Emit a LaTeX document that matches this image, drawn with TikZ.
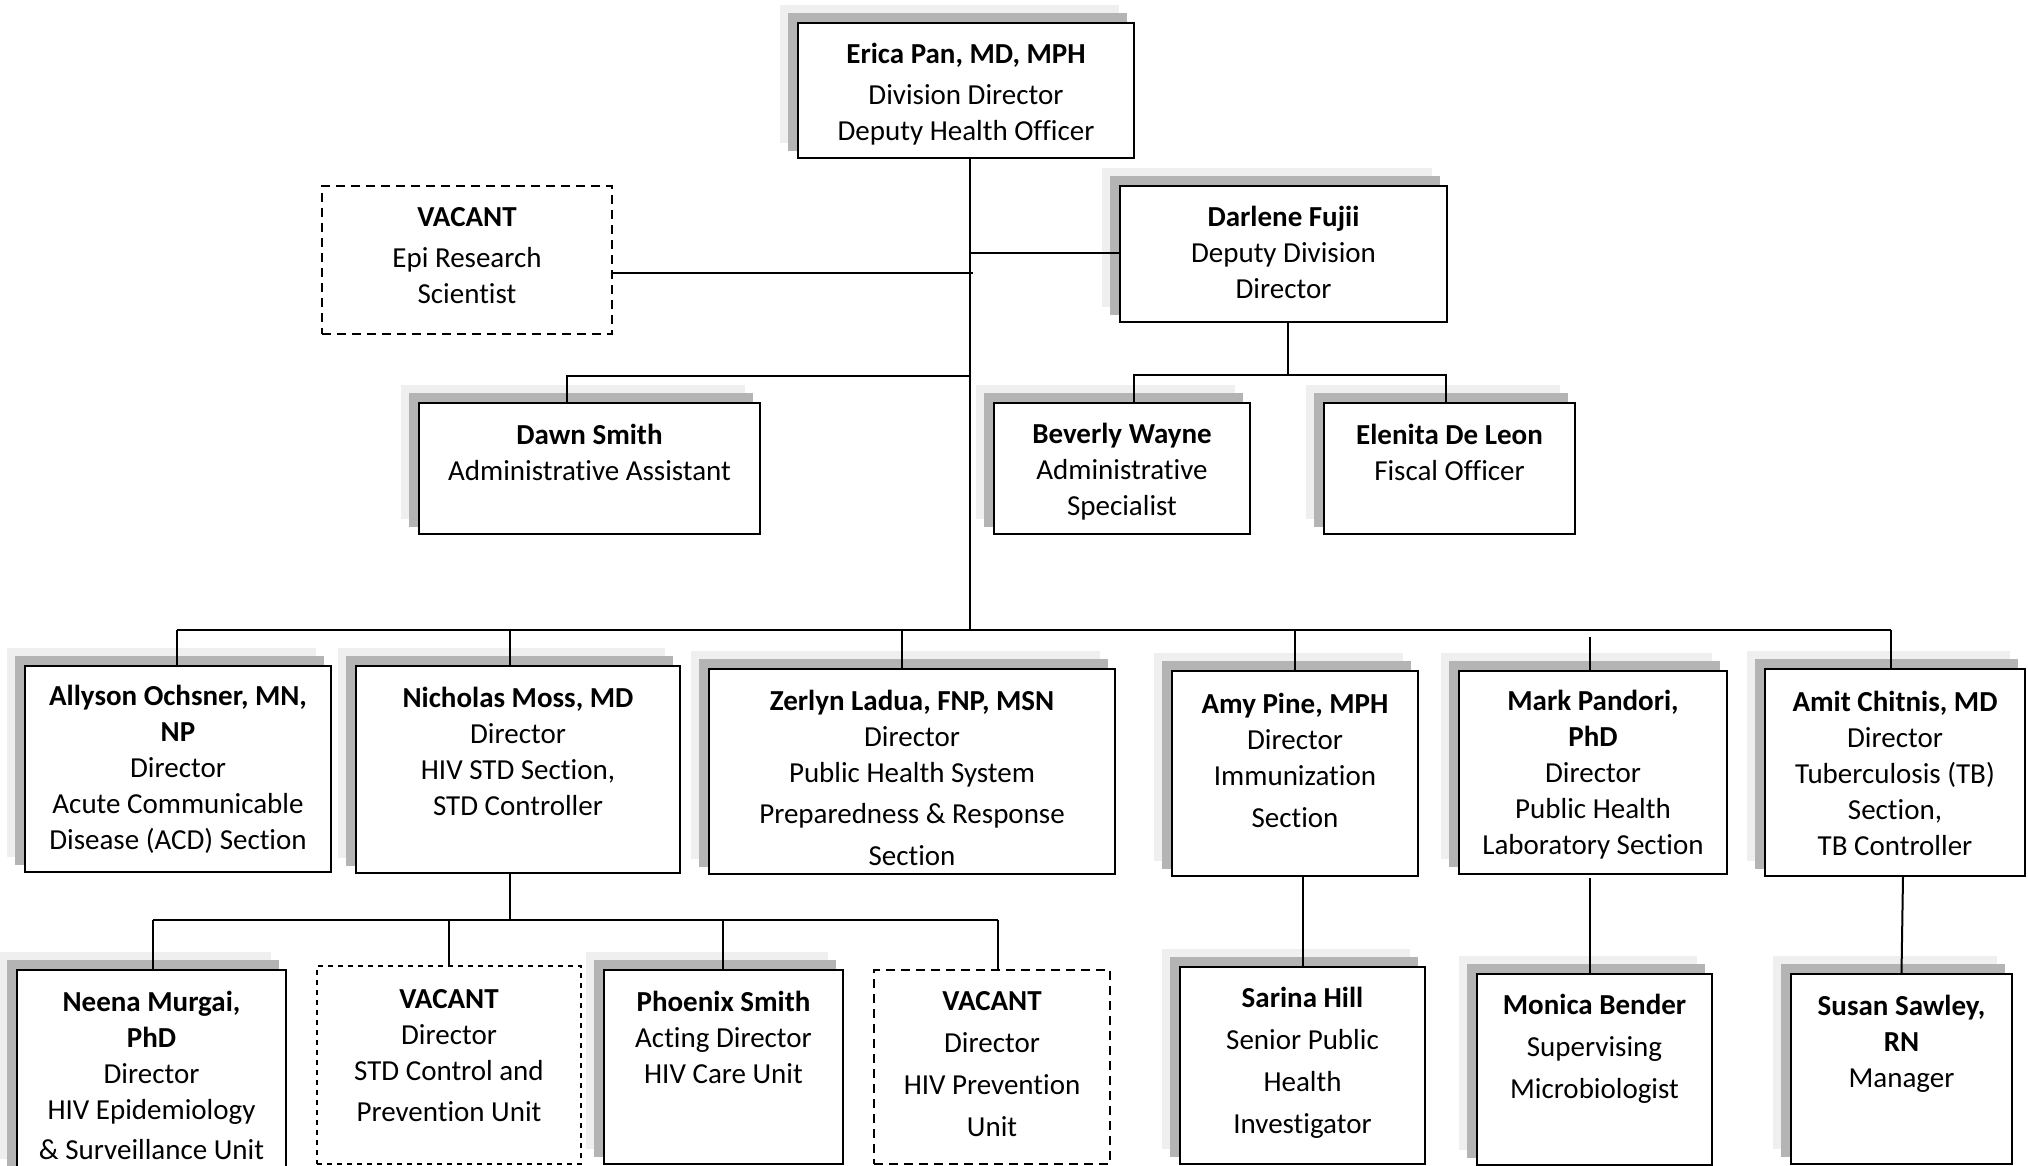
\documentclass[tikz,border=0pt]{standalone}
\usepackage{fontspec}
\setmainfont{Carlito}[Ligatures={NoCommon}]
\usetikzlibrary{calc}
\definecolor{shlight}{HTML}{EFEFEF}
\definecolor{shdark}{HTML}{B4B4B4}
\tikzset{
  conn/.style={line width=1pt},
  trunkline/.style={line width=1.4pt},
  solidbox/.style={draw=black, fill=white, line width=1.1pt, inner sep=0pt},
  vacA/.style={draw=black, fill=white, line width=1.1pt, inner sep=0pt, dash pattern=on 4.5pt off 3pt},
  vacB/.style={draw=black, fill=white, line width=0.9pt, inner sep=0pt, dash pattern=on 2.5pt off 2.5pt},
  lbl/.style={align=center, inner sep=0pt, font=\fontsize{14.5}{18}\selectfont},
}
% #1 name, #2 x1, #3 y1, #4 x2, #5 y2, #6 text centre y, #7 text
\newcommand\orgbox[7]{%
  \fill[shlight] (#2-18,#3-18) rectangle (#4-15,#5-15);
  \fill[shdark] (#2-10,#3-10) rectangle (#4-7,#5-7);
  \node[solidbox, minimum width={(#4-#2)*0.5pt}, minimum height={(#5-#3)*0.5pt}] (#1) at ({(#2+#4)/2},{(#3+#5)/2}) {};
  \node[lbl] (#1-t) at ({(#2+#4)/2},{#6+2}) {#7};
}
\newcommand\vacbox[8][vacA]{%
  \node[#1, minimum width={(#5-#3)*0.5pt}, minimum height={(#6-#4)*0.5pt}] (#2) at ({(#3+#5)/2},{(#4+#6)/2}) {};
  \node[lbl] (#2-t) at ({(#3+#5)/2},{#7+2}) {#8};
}
\begin{document}
\begin{tikzpicture}[x=0.5pt, y=-0.5pt]
\useasboundingbox (0,0) rectangle (2028,1166);
\fill[white] (0,0) rectangle (2028,1166);

% top
\orgbox{erica}{798}{23}{1134}{158}{92}{\textbf{Erica Pan, MD, MPH}\\[2.5pt]Division Director\\Deputy Health Officer}
\vacbox[vacA]{epi}{322}{186}{612}{334}{253.5}{\textbf{VACANT}\\[2.5pt]Epi Research\\Scientist}
\orgbox{darlene}{1120}{186}{1447}{322}{250.5}{\textbf{Darlene Fujii}\\Deputy Division\\Director}
\orgbox{dawn}{419}{403}{760}{534}{450}{\textbf{Dawn Smith}\\Administrative Assistant}
\orgbox{beverly}{994}{403}{1250}{534}{470}{\textbf{Beverly Wayne}\\Administrative\\Specialist}
\orgbox{elenita}{1324}{403}{1575}{534}{450}{\textbf{Elenita De Leon}\\Fiscal Officer}

% row 3
\orgbox{allyson}{25}{666}{331}{872}{767}{\textbf{Allyson Ochsner, MN,}\\\textbf{NP}\\Director\\Acute Communicable\\Disease (ACD) Section}
\orgbox{nicholas}{356}{666}{680}{873}{749}{\textbf{Nicholas Moss, MD}\\Director\\HIV STD Section,\\STD Controller}
\orgbox{zerlyn}{709}{669}{1115}{874}{776}{\textbf{Zerlyn Ladua, FNP, MSN}\\Director\\Public Health System\\[2.5pt]Preparedness \& Response\\[3pt]Section}
\orgbox{amy}{1172}{671}{1418}{876}{758}{\textbf{Amy Pine, MPH}\\Director\\Immunization\\[3pt]Section}
\orgbox{mark}{1459}{671}{1727}{874}{773}{\textbf{Mark Pandori,}\\\textbf{PhD}\\Director\\Public Health\\Laboratory Section}
\orgbox{amit}{1765}{669}{2025}{876}{771.5}{\textbf{Amit Chitnis, MD}\\Director\\Tuberculosis (TB)\\Section,\\TB Controller}

% row 4
\orgbox{neena}{17}{970}{286}{1174}{1073.5}{\textbf{Neena Murgai,}\\\textbf{PhD}\\Director\\HIV Epidemiology\\[2pt]\& Surveillance Unit}
\vacbox[vacB]{stdvac}{317}{966}{581}{1164}{1054}{\textbf{VACANT}\\Director\\STD Control and\\[2.5pt]Prevention Unit}
\orgbox{phoenix}{604}{970}{843}{1164}{1035.5}{\textbf{Phoenix Smith}\\Acting Director\\HIV Care Unit}
\vacbox[vacA]{hivvac}{874}{970}{1110}{1164}{1062.5}{\textbf{VACANT}\\[3pt]Director\\[3pt]HIV Prevention\\[3pt]Unit}
\orgbox{sarina}{1180}{967}{1425}{1164}{1061}{\textbf{Sarina Hill}\\[3pt]Senior Public\\[3pt]Health\\[3pt]Investigator}
\orgbox{monica}{1477}{974}{1712}{1165}{1047}{\textbf{Monica Bender}\\[3pt]Supervising\\[3pt]Microbiologist}
\orgbox{susan}{1791}{974}{2012}{1164}{1042}{\textbf{Susan Sawley,}\\\textbf{RN}\\Manager}

% connectors
\coordinate (tb) at (970,630);
\draw[trunkline] (erica.south -| tb) -- (tb);
\coordinate (jepi) at (973,273);
\draw[conn] (epi.east |- jepi) -- (jepi);
\coordinate (jdar) at (970,253);
\draw[conn] (jdar) -- (darlene.west |- jdar);
\coordinate (jdawn) at (970,376);
\coordinate (dawnc) at (567,376);
\draw[conn] (jdawn) -- (dawnc) -- (dawnc |- dawn.north);
\coordinate (dd) at (1288,375);
\draw[conn] (darlene.south -| dd) -- (dd);
\coordinate (bevc) at (1134,375);
\coordinate (elec) at (1446,375);
\draw[conn] (bevc |- beverly.north) -- (bevc) -- (elec) -- (elec |- elenita.north);

\coordinate (b3l) at (177,630);
\coordinate (b3r) at (1891,630);
\draw[conn] (b3l) -- (b3r);
\foreach \n/\x/\s in {allyson/177/630, nicholas/510/630, zerlyn/902/630, amy/1295/630, mark/1590/637, amit/1891/630}{
  \coordinate (dtop) at (\x,\s);
  \draw[conn] (dtop) -- (dtop |- \n.north);
}

\coordinate (nd) at (510,920);
\draw[conn] (nicholas.south -| nd) -- (nd);
\coordinate (b4l) at (153,920);
\coordinate (b4r) at (998,920);
\draw[conn] (b4l) -- (b4r);
\foreach \n/\x in {neena/153, stdvac/449, phoenix/723, hivvac/998}{
  \coordinate (dtop) at (\x,920);
  \draw[conn] (dtop) -- (dtop |- \n.north);
}

\draw[conn] (amy.south -| sarina.north) -- (sarina.north);
\coordinate (mk) at (1590,878);
\draw[conn] (mk) -- (mk |- monica.north);
\coordinate (am1) at (1903,876);
\draw[conn] (am1) -- (susan.north);
\end{tikzpicture}
\end{document}
